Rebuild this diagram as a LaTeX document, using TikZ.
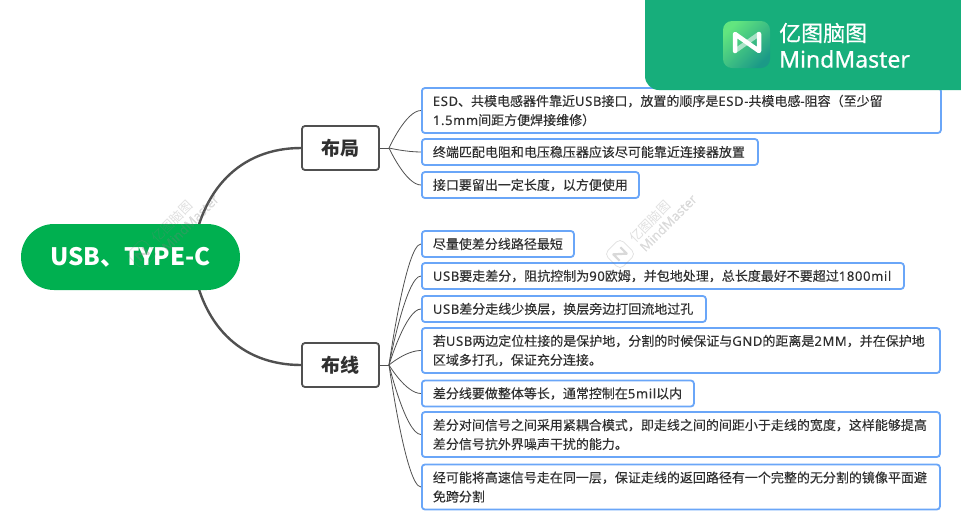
\documentclass[tikz,border=0pt]{standalone}
\usepackage{fontspec}
\setmainfont{Noto Sans CJK SC}
\newfontfamily\leaffont[FakeBold=0.2]{Noto Sans CJK SC}
\newfontfamily\bannerfont[FakeBold=0.5]{Noto Sans CJK SC}
\newfontfamily\latfont[FakeBold=0.2,LetterSpace=5]{Noto Sans}
\newfontfamily\brandfont[FakeBold=0.25]{Noto Sans}
\newfontfamily\brandheavy[FakeBold=0.6]{Noto Sans}
\newcommand{\lat}[1]{{\latfont #1}}
\usetikzlibrary{backgrounds}
\definecolor{rootgreen}{HTML}{00B050}
\definecolor{bannergreen}{HTML}{17AE7B}
\definecolor{leafblue}{HTML}{6AA6F8}
\definecolor{branchgray}{HTML}{505050}
\definecolor{textgray}{HTML}{303030}
\definecolor{iconlight}{HTML}{62E57F}
\definecolor{icondark}{HTML}{1B9A87}
\tikzset{
  rootbox/.style={fill=rootgreen,text=white,rounded corners=33,minimum width=219,minimum height=66,inner sep=0,font=\fontsize{24}{28}\selectfont\bfseries},
  mainbox/.style={draw=branchgray,line width=1.8,fill=white,rounded corners=3,minimum width=77,minimum height=44,inner sep=0,text=textgray,font=\fontsize{19}{22}\selectfont\bfseries},
  leafbox/.style={draw=leafblue,line width=1.8,fill=white,rounded corners=3,anchor=west,align=left,text width=#1,inner xsep=11,inner ysep=0,minimum height=26,text=textgray,font=\fontsize{13}{19}\leaffont\selectfont},
  twoline/.style={minimum height=45},
  thickbranch/.style={draw=branchgray,line width=2.4},
  thinbranch/.style={draw=branchgray,line width=0.8},
  wmarkbox/.style={gray,opacity=0.25,text opacity=0.25,inner sep=0,transform shape}
}
\begin{document}
\begin{tikzpicture}[x=1pt,y=-1pt]
    \useasboundingbox (0,0) rectangle (961,531);
    % root and the two main topics
    \node[rootbox] (usbroot) at (130.5,257) {USB、TYPE-C};
    \node[mainbox] (buju) at (340.5,148) {布局};
    \node[mainbox] (buxian) at (340.5,365) {布线};
    % leaves of the first topic
    \node[leafbox=497,twoline] (bj1) at (421,110.5) {\lat{ESD}、共模电感器件靠近\lat{USB}接口，放置的顺序是\lat{ESD-}共模电感\lat{-}阻容（至少留\\\lat{1.5mm}间距方便焊接维修）};
    \node[leafbox=314] (bj2) at (421,152) {终端匹配电阻和电压稳压器应该尽可能靠近连接器放置};
    \node[leafbox=195] (bj3) at (421,185) {接口要留出一定长度，以方便使用};
    % leaves of the second topic
    \node[leafbox=130] (bx1) at (421,244) {尽量使差分线路径最短};
    \node[leafbox=460] (bx2) at (421,276) {\lat{USB}要走差分，阻抗控制为\lat{90}欧姆，并包地处理，总长度最好不要超过\lat{1800mil}};
    \node[leafbox=262] (bx3) at (421,309) {\lat{USB}差分走线少换层，换层旁边打回流地过孔};
    \node[leafbox=496,twoline] (bx4) at (421,350.5) {若\lat{USB}两边定位柱接的是保护地，分割的时候保证与\lat{GND}的距离是\lat{2MM}，并在保护地\\区域多打孔，保证充分连接。};
    \node[leafbox=250] (bx5) at (421,393.5) {差分线要做整体等长，通常控制在\lat{5mil}以内};
    \node[leafbox=496,twoline] (bx6) at (421,434.5) {差分对间信号之间采用紧耦合模式，即走线之间的间距小于走线的宽度，这样能够提高\\差分信号抗外界噪声干扰的能力。};
    \node[leafbox=496,twoline] (bx7) at (421,487) {经可能将高速信号走在同一层，保证走线的返回路径有一个完整的无分割的镜像平面避\\免跨分割};
    % connectors
    \coordinate (rootout) at (192,257);
    \coordinate (hubbj) at (389,148);
    \coordinate (hubbx) at (389,365);
    \coordinate (bendx) at (406,0);
    \begin{pgfonlayer}{background}
      \draw[thickbranch] (rootout) .. controls (200,190) and (240,148) .. (buju.west);
      \draw[thickbranch] (rootout) .. controls (200,324) and (240,365) .. (buxian.west);
      \draw[thinbranch] (buju.east) -- (hubbj);
      \draw[thinbranch] (buxian.east) -- (hubbx);
      \foreach \leaf in {bj1,bj2,bj3}
        \draw[thinbranch] (hubbj) .. controls (hubbj) and (bendx |- \leaf.west) .. (\leaf.west);
      \foreach \leaf in {bx1,bx2,bx3,bx4,bx5,bx6,bx7}
        \draw[thinbranch] (hubbx) .. controls (hubbx) and (bendx |- \leaf.west) .. (\leaf.west);
    \end{pgfonlayer}
    % banner
    \fill[bannergreen,rounded corners=14] (645,-20) -- (645,90) -- (990,90) -- (990,-20) -- cycle;
    \shade[top color=iconlight,bottom color=icondark,shading angle=45,rounded corners=9] (723,21) rectangle (770,68);
    \draw[white,opacity=0.55,line width=4.5] (735,51) -- (759,34);
    \draw[white,line width=4.5,line join=round,line cap=round] (735,51) -- (735,34) -- (759,51) -- (759,34);
    \node[text=white,anchor=west,inner sep=0,font=\fontsize{22}{24}\bannerfont\selectfont] (bannerzh) at (779,33) {亿图脑图};
    \node[text=white,anchor=west,inner sep=0,font=\fontsize{23}{24}\brandheavy\selectfont] (banneren) at (779,59) {MindMaster};
    % watermarks
    \foreach \wname/\wx in {wa/142,wb/620} {
      \begin{scope}[shift={(\wx,254)},rotate=45]
        \draw[wmarkbox,draw=gray,line width=0.7,rounded corners=5,fill opacity=0] (-11,-11) rectangle (11,11);
        \draw[gray,opacity=0.3,line width=2.2,line join=round] (-5,4.5) -- (-5,-4.5) -- (5,4.5) -- (5,-4.5);
        \node[wmarkbox,anchor=west,font=\fontsize{13}{15}\selectfont] (\wname zh) at (18,-1.5) {亿图脑图};
        \node[wmarkbox,anchor=west,font=\fontsize{13}{15}\brandfont\selectfont] (\wname en) at (19,12) {MindMaster};
      \end{scope}
    }
  \end{tikzpicture}
\end{document}
